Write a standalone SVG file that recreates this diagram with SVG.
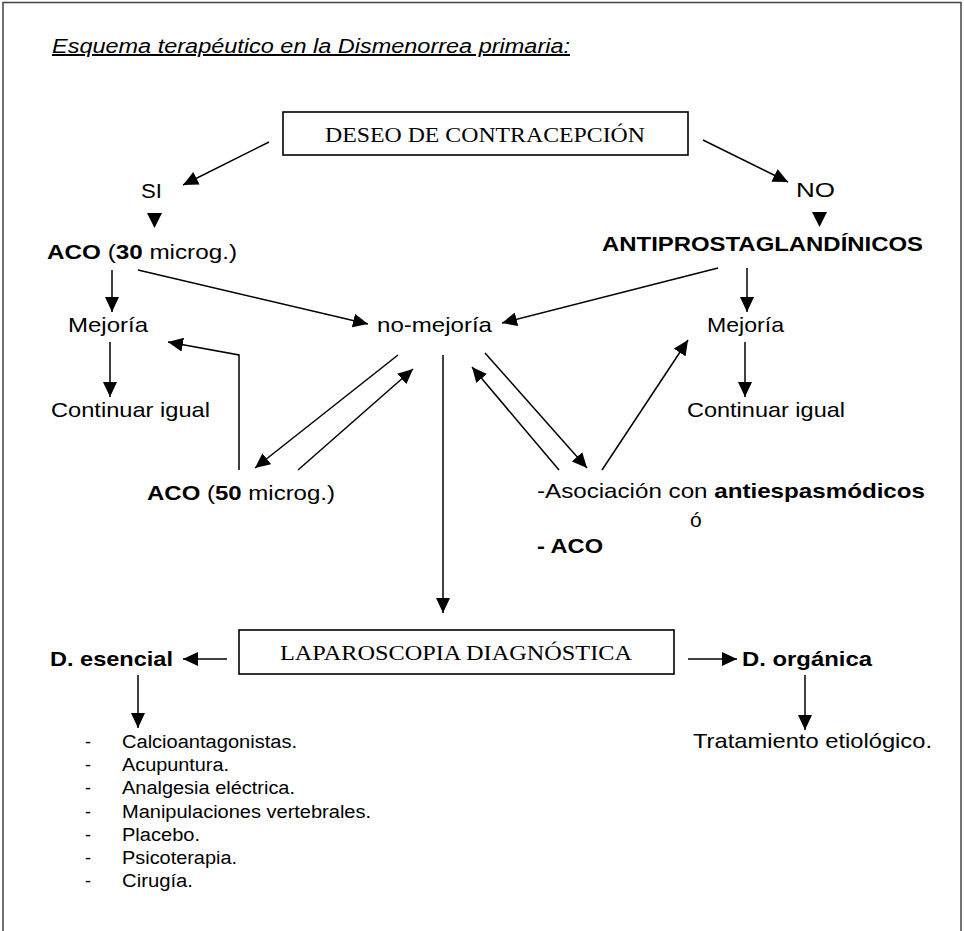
<svg xmlns="http://www.w3.org/2000/svg" width="964" height="931" viewBox="0 0 964 931">
<defs>
<style>
.s{font-family:"Liberation Sans",Arial,sans-serif;fill:#000}
.r{font-family:"Liberation Serif","Times New Roman",serif;fill:#000;font-size:22px}
.b{font-weight:bold}
.box{fill:#fff;stroke:#000;stroke-width:1.6}
.c{fill:none;stroke:#000;stroke-width:1.5}
.t{fill:#000}
</style>
<marker id="ah" viewBox="0 0 15 14" refX="15" refY="7" markerWidth="15" markerHeight="14" orient="auto" markerUnits="userSpaceOnUse"><path d="M0,0 L15,7 L0,14 z" fill="#000"/></marker>
</defs>
<rect width="964" height="931" fill="#fff"/>
<path d="M3,931 V2.5 H961 V931" fill="none" stroke="#444" stroke-width="1.5"/>

<g id="title"><text class="s" x="52" y="53" font-size="20" font-style="italic" text-decoration="underline" textLength="518" lengthAdjust="spacingAndGlyphs">Esquema terapéutico en la Dismenorrea primaria:</text></g>

<g id="n-deseo"><rect class="box" x="283" y="112" width="405" height="43"/><text class="r" x="325" y="142" textLength="320" lengthAdjust="spacingAndGlyphs">DESEO DE CONTRACEPCIÓN</text></g>
<g id="n-si"><text class="s" x="141" y="198" font-size="20" textLength="21" lengthAdjust="spacingAndGlyphs">SI</text></g>
<g id="n-no"><text class="s" x="796" y="197" font-size="20" textLength="39" lengthAdjust="spacingAndGlyphs">NO</text></g>
<g id="n-aco30"><text class="s" x="47" y="259" font-size="21" textLength="190" lengthAdjust="spacingAndGlyphs"><tspan class="b">ACO</tspan> (<tspan class="b">30</tspan> microg.)</text></g>
<g id="n-anti"><text class="s b" x="602" y="251" font-size="21" textLength="321" lengthAdjust="spacingAndGlyphs">ANTIPROSTAGLANDÍNICOS</text></g>
<g id="n-mejoria-l"><text class="s" x="68" y="332" font-size="21" textLength="80" lengthAdjust="spacingAndGlyphs">Mejoría</text></g>
<g id="n-nomejoria"><text class="s" x="377" y="332" font-size="21" textLength="115" lengthAdjust="spacingAndGlyphs">no-mejoría</text></g>
<g id="n-mejoria-r"><text class="s" x="707" y="332" font-size="21" textLength="77" lengthAdjust="spacingAndGlyphs">Mejoría</text></g>
<g id="n-continuar-l"><text class="s" x="51" y="417" font-size="21" textLength="159" lengthAdjust="spacingAndGlyphs">Continuar igual</text></g>
<g id="n-continuar-r"><text class="s" x="687" y="417" font-size="21" textLength="158" lengthAdjust="spacingAndGlyphs">Continuar igual</text></g>
<g id="n-aco50"><text class="s" x="147" y="500" font-size="21" textLength="188" lengthAdjust="spacingAndGlyphs"><tspan class="b">ACO</tspan> (<tspan class="b">50</tspan> microg.)</text></g>
<g id="n-asociacion">
<text class="s" x="537" y="498" font-size="21" textLength="388" lengthAdjust="spacingAndGlyphs">-Asociación con <tspan class="b">antiespasmódicos</tspan></text>
<text class="s" x="690" y="527" font-size="21">ó</text>
<text class="s b" x="537" y="553" font-size="21" textLength="66" lengthAdjust="spacingAndGlyphs">- ACO</text>
</g>
<g id="n-laparoscopia"><rect class="box" x="239" y="630" width="435" height="44"/><text class="r" x="280" y="660" textLength="352" lengthAdjust="spacingAndGlyphs">LAPAROSCOPIA DIAGNÓSTICA</text></g>
<g id="n-esencial"><text class="s b" x="50" y="666" font-size="21" textLength="123" lengthAdjust="spacingAndGlyphs">D. esencial</text></g>
<g id="n-organica"><text class="s b" x="742" y="666" font-size="21" textLength="130" lengthAdjust="spacingAndGlyphs">D. orgánica</text></g>
<g id="n-tratamiento"><text class="s" x="693" y="748" font-size="21" textLength="239" lengthAdjust="spacingAndGlyphs">Tratamiento etiológico.</text></g>
<g id="n-lista" class="s" font-size="18">
<text x="85" y="748">-</text><text x="122" y="748" textLength="175" lengthAdjust="spacingAndGlyphs">Calcioantagonistas.</text>
<text x="85" y="771">-</text><text x="122" y="771" textLength="107" lengthAdjust="spacingAndGlyphs">Acupuntura.</text>
<text x="85" y="794">-</text><text x="122" y="794" textLength="173" lengthAdjust="spacingAndGlyphs">Analgesia eléctrica.</text>
<text x="85" y="818">-</text><text x="122" y="818" textLength="249" lengthAdjust="spacingAndGlyphs">Manipulaciones vertebrales.</text>
<text x="85" y="841">-</text><text x="122" y="841" textLength="78" lengthAdjust="spacingAndGlyphs">Placebo.</text>
<text x="85" y="864">-</text><text x="122" y="864" textLength="115" lengthAdjust="spacingAndGlyphs">Psicoterapia.</text>
<text x="85" y="887">-</text><text x="122" y="887" textLength="71" lengthAdjust="spacingAndGlyphs">Cirugía.</text>
</g>

<g id="connectors">
<line class="c" x1="269" y1="142" x2="183" y2="185" marker-end="url(#ah)"/>
<line class="c" x1="703" y1="140" x2="788" y2="182" marker-end="url(#ah)"/>
<polygon class="t" points="147,213 162,213 154.5,228"/>
<polygon class="t" points="812,212 827,212 819.5,227"/>
<line class="c" x1="112" y1="270" x2="112" y2="312" marker-end="url(#ah)"/>
<line class="c" x1="138" y1="270" x2="368" y2="324" marker-end="url(#ah)"/>
<line class="c" x1="718" y1="268" x2="502" y2="323" marker-end="url(#ah)"/>
<line class="c" x1="747" y1="268" x2="747" y2="312" marker-end="url(#ah)"/>
<line class="c" x1="110" y1="342" x2="110" y2="397" marker-end="url(#ah)"/>
<line class="c" x1="745" y1="342" x2="745" y2="397" marker-end="url(#ah)"/>
<line class="c" x1="398" y1="355" x2="255" y2="468" marker-end="url(#ah)"/>
<line class="c" x1="298" y1="470" x2="413" y2="369" marker-end="url(#ah)"/>
<polyline class="c" points="239,470 239,355 168,342" marker-end="url(#ah)"/>
<line class="c" x1="485" y1="353" x2="587" y2="468" marker-end="url(#ah)"/>
<line class="c" x1="559" y1="470" x2="472" y2="367" marker-end="url(#ah)"/>
<line class="c" x1="602" y1="470" x2="688" y2="340" marker-end="url(#ah)"/>
<line class="c" x1="443" y1="355" x2="443" y2="613" marker-end="url(#ah)"/>
<line class="c" x1="227" y1="659" x2="183" y2="659" marker-end="url(#ah)"/>
<line class="c" x1="688" y1="659" x2="737" y2="659" marker-end="url(#ah)"/>
<line class="c" x1="138" y1="675" x2="138" y2="728" marker-end="url(#ah)"/>
<line class="c" x1="805" y1="675" x2="805" y2="730" marker-end="url(#ah)"/>
</g>
</svg>
